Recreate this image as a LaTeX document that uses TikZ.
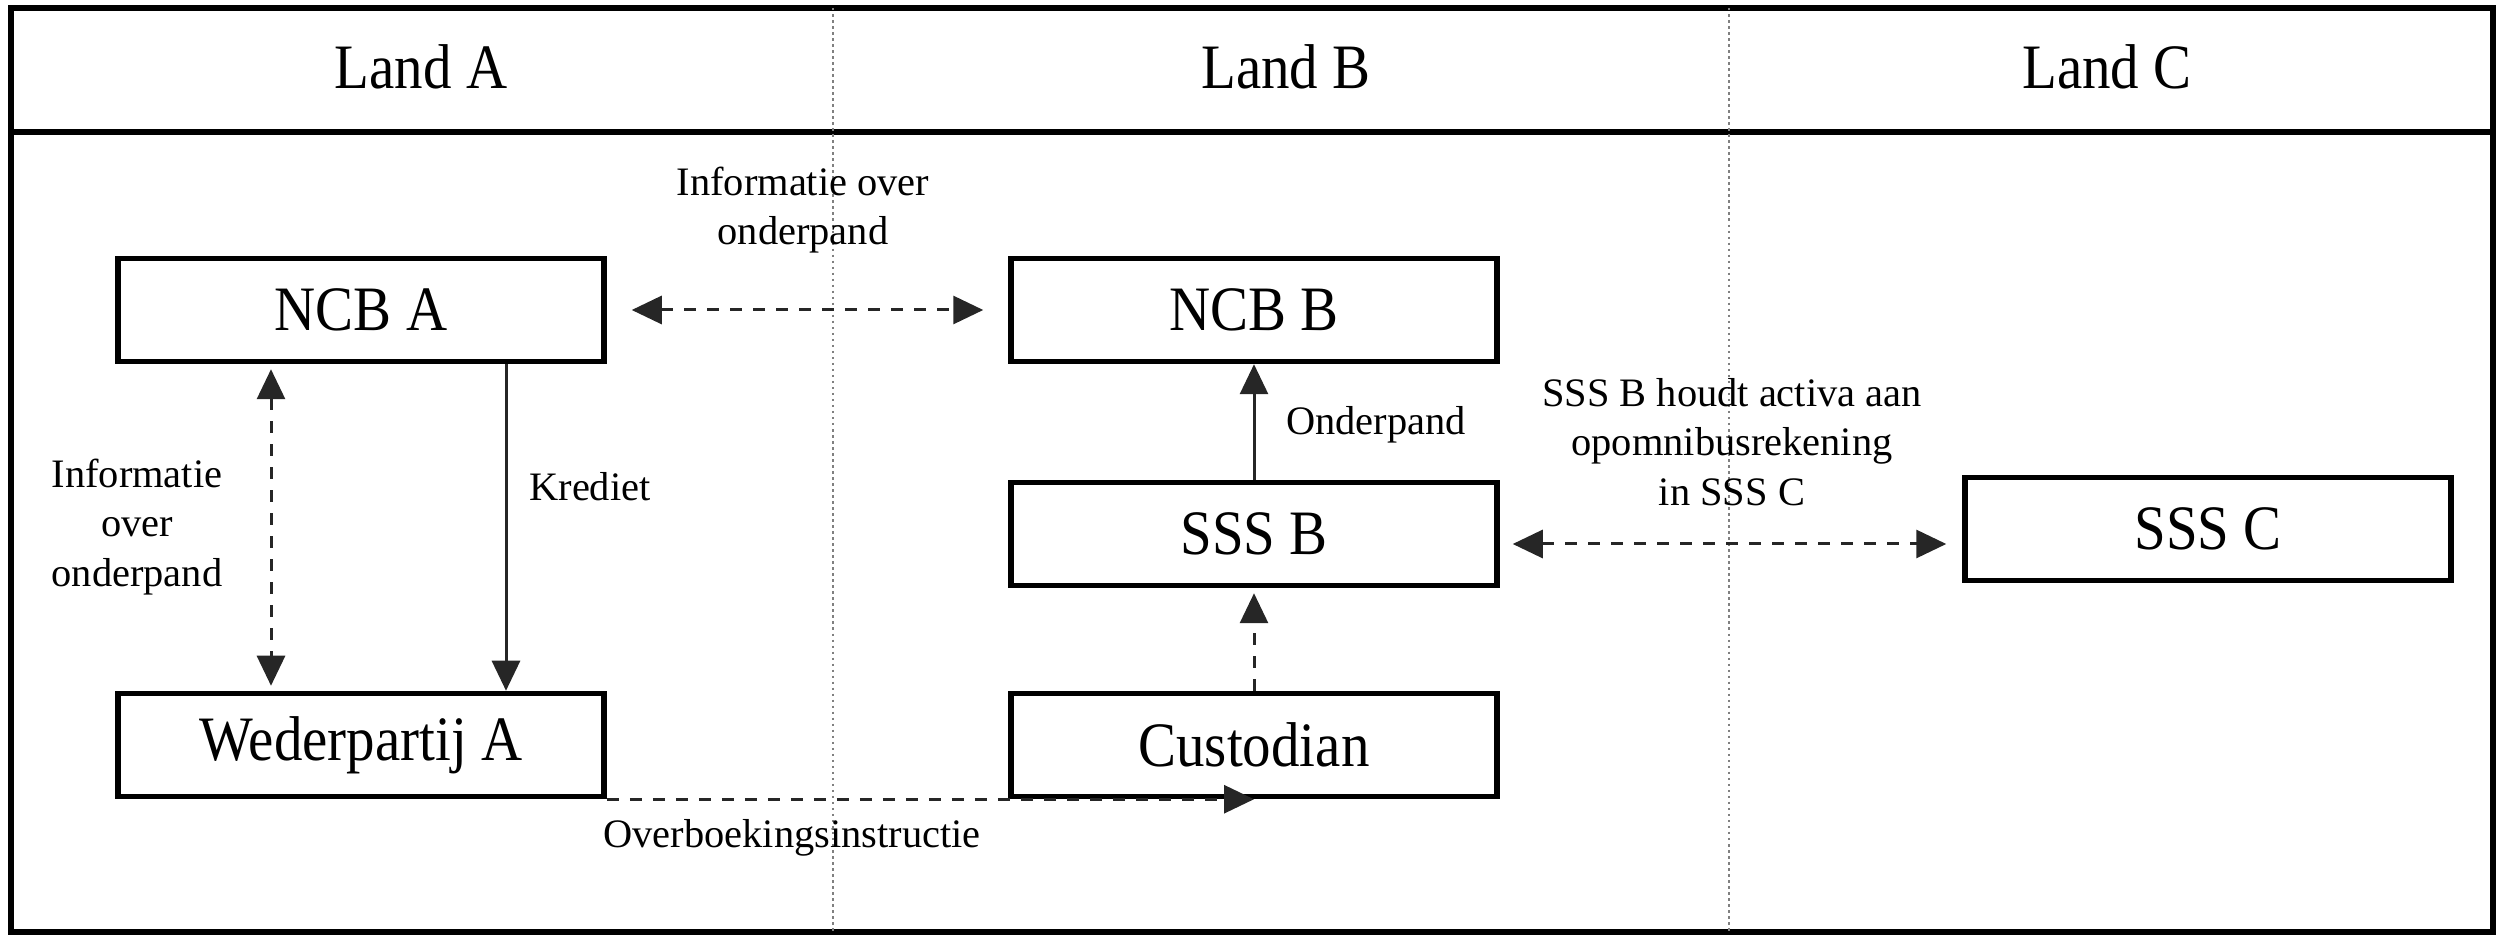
\documentclass[tikz,border=0pt]{standalone}
\usepackage{fontspec}
\setmainfont{Liberation Serif}
\newfontfamily\boxfont[FakeStretch=0.9]{Liberation Serif}
\usetikzlibrary{arrows.meta, calc}

\begin{document}
\begin{tikzpicture}[x=0.1mm, y=-0.1mm,
  >={Triangle[length=3mm, width=2.8mm]},
  box/.style={draw, line width=0.55mm, minimum width=48.6mm, minimum height=10.3mm, inner sep=0pt, font=\boxfont\fontsize{18}{22}\selectfont},
  land/.style={font=\boxfont\fontsize{18}{22}\selectfont},
  lbl/.style={align=center, inner sep=0pt, font=\fontsize{11.5}{14}\selectfont},
  flow/.style={black!85, line width=0.3mm},
  info/.style={flow, dash pattern=on 1.2mm off 1.1mm},
]
\useasboundingbox (0,0) rectangle (2503,941);
% frame and the three countries
\draw[line width=0.6mm] (11,8) rectangle (2493,932);
\draw[line width=0.6mm] (11,132) -- (2493,132);
\draw[black!50, densely dotted, line width=0.25mm] (833,8) -- (833,932) (1729,8) -- (1729,932);
\node[land] (landa) at (421,67) {Land A};
\node[land] (landb) at (1286,67) {Land B};
\node[land] (landc) at (2107,67) {Land C};

% parties
\node[box] (ncba) at (361,310) {NCB A};
\node[box] (ncbb) at (1254,310) {NCB B};
\node[box] (sssb) at (1254,534) {SSS B};
\node[box] (sssc) at (2208,529) {SSS C};
\node[box] (wpa) at (361,745) {Wederpartij A};
\node[box] (cust) at (1254,745) {Custodian};

% flows
\draw[info, <->, shorten <=2.5mm, shorten >=2.5mm] (ncba.east) -- (ncbb.west);
\draw[info, <->, shorten <=0.5mm, shorten >=0.5mm] ([xshift=-9mm]ncba.south) -- ([xshift=-9mm]wpa.north);
\draw[flow, ->] ([xshift=14.5mm]ncba.south) -- ([xshift=14.5mm]wpa.north);
\draw[flow, ->] (sssb.north) -- (ncbb.south);
\draw[info, ->, shorten >=0.5mm] (cust.north) -- (sssb.south);
\draw[info, <->, shorten <=1.3mm, shorten >=1.6mm] ([yshift=-1mm]sssb.east) -- ([yshift=-1mm]sssb.east -| sssc.west);
\draw[info, ->] (wpa.south east) -- (cust.south);

% labels
\node[lbl] (infoab) at (803,210) {Informatie over\\onderpand};
\node[lbl] (infoa) at (137,527) {Informatie\\over\\onderpand};
\node[lbl] (krediet) at (590,487) {Krediet};
\node[lbl] (onderpand) at (1376,425) {Onderpand};
\node[lbl] (omnibus) at (1732,442) {SSS B houdt activa aan\\opomnibusrekening\\in SSS C};
\node[lbl] (overboeking) at (792,838) {Overboekingsinstructie};
\end{tikzpicture}
\end{document}
